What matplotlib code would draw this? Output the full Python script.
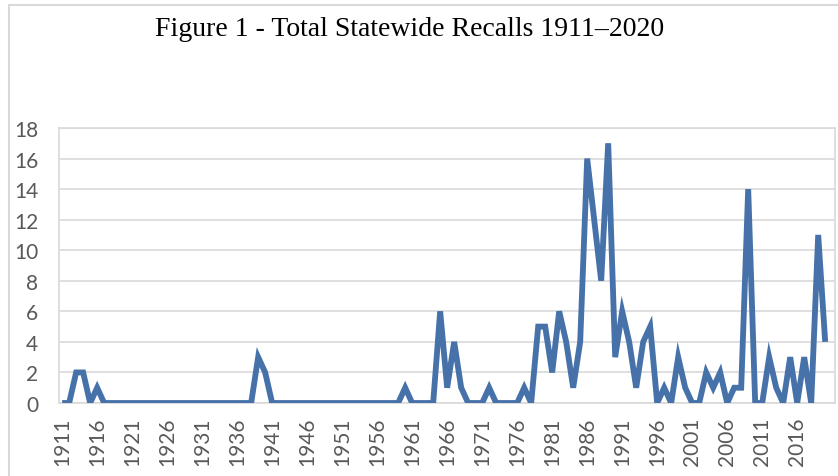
import matplotlib
matplotlib.use("Agg")
import matplotlib.pyplot as plt
from matplotlib.patches import Rectangle

# data
years = list(range(1911, 2021))
recalls = [
    0, 0, 2, 2, 0, 1, 0, 0, 0, 0,      # 1911-1920
    0, 0, 0, 0, 0, 0, 0, 0, 0, 0,      # 1921-1930
    0, 0, 0, 0, 0, 0, 0, 0, 3, 2,      # 1931-1940
    0, 0, 0, 0, 0, 0, 0, 0, 0, 0,      # 1941-1950
    0, 0, 0, 0, 0, 0, 0, 0, 0, 1,      # 1951-1960
    0, 0, 0, 0, 6, 1, 4, 1, 0, 0,      # 1961-1970
    0, 1, 0, 0, 0, 0, 1, 0, 5, 5,      # 1971-1980
    2, 6, 4, 1, 4, 16, 12, 8, 17, 3,   # 1981-1990
    6, 4, 1, 4, 5, 0, 1, 0, 3, 1,      # 1991-2000
    0, 0, 2, 1, 2, 0, 1, 1, 14, 0,     # 2001-2010
    0, 3, 1, 0, 3, 0, 3, 0, 11, 4,     # 2011-2020
]
tick_years = list(range(1911, 2020, 5))
y_ticks = list(range(0, 19, 2))
title = "Figure 1 - Total Statewide Recalls 1911\u20132020"

W, H = 838, 477
fig = plt.figure(figsize=(W / 100, H / 100), dpi=100)

# outer chart border (light gray, cut off at right/bottom)
fig.patches.append(Rectangle((9 / W, -0.1), 1.2, 1.1 - 6 / H,
                             transform=fig.transFigure, fill=False,
                             edgecolor="#d9d9d9", linewidth=1.5))

ax = fig.add_axes([59 / W, 1 - 404 / H, (835 - 59) / W, (404 - 129) / H])
ax.plot(years, recalls, color="#4672a9", linewidth=4.2, solid_joinstyle="miter",
        solid_capstyle="butt", zorder=3)

ax.set_xlim(1910.55, 2021.4)
ax.set_ylim(0, 18)
ax.set_yticks(y_ticks)
ax.set_xticks(tick_years)
ax.set_xticklabels([str(y) for y in tick_years], rotation=90)
ax.grid(axis="y", color="#d9d9d9", linewidth=1.2)
ax.set_axisbelow(True)
for s in ax.spines.values():
    s.set_color("#d9d9d9")
    s.set_linewidth(1.2)
ax.tick_params(axis="both", length=0, labelsize=15, colors="#595959")
ax.tick_params(axis="y", pad=15)
ax.tick_params(axis="x", pad=10)
for lab in ax.get_xticklabels() + ax.get_yticklabels():
    lab.set_family("Lato")

fig.text(410 / W, 1 - 30 / H, title, ha="center", va="center",
         family="Liberation Serif", fontsize=20, color="#000000")

fig.savefig("out.png", dpi=100)
